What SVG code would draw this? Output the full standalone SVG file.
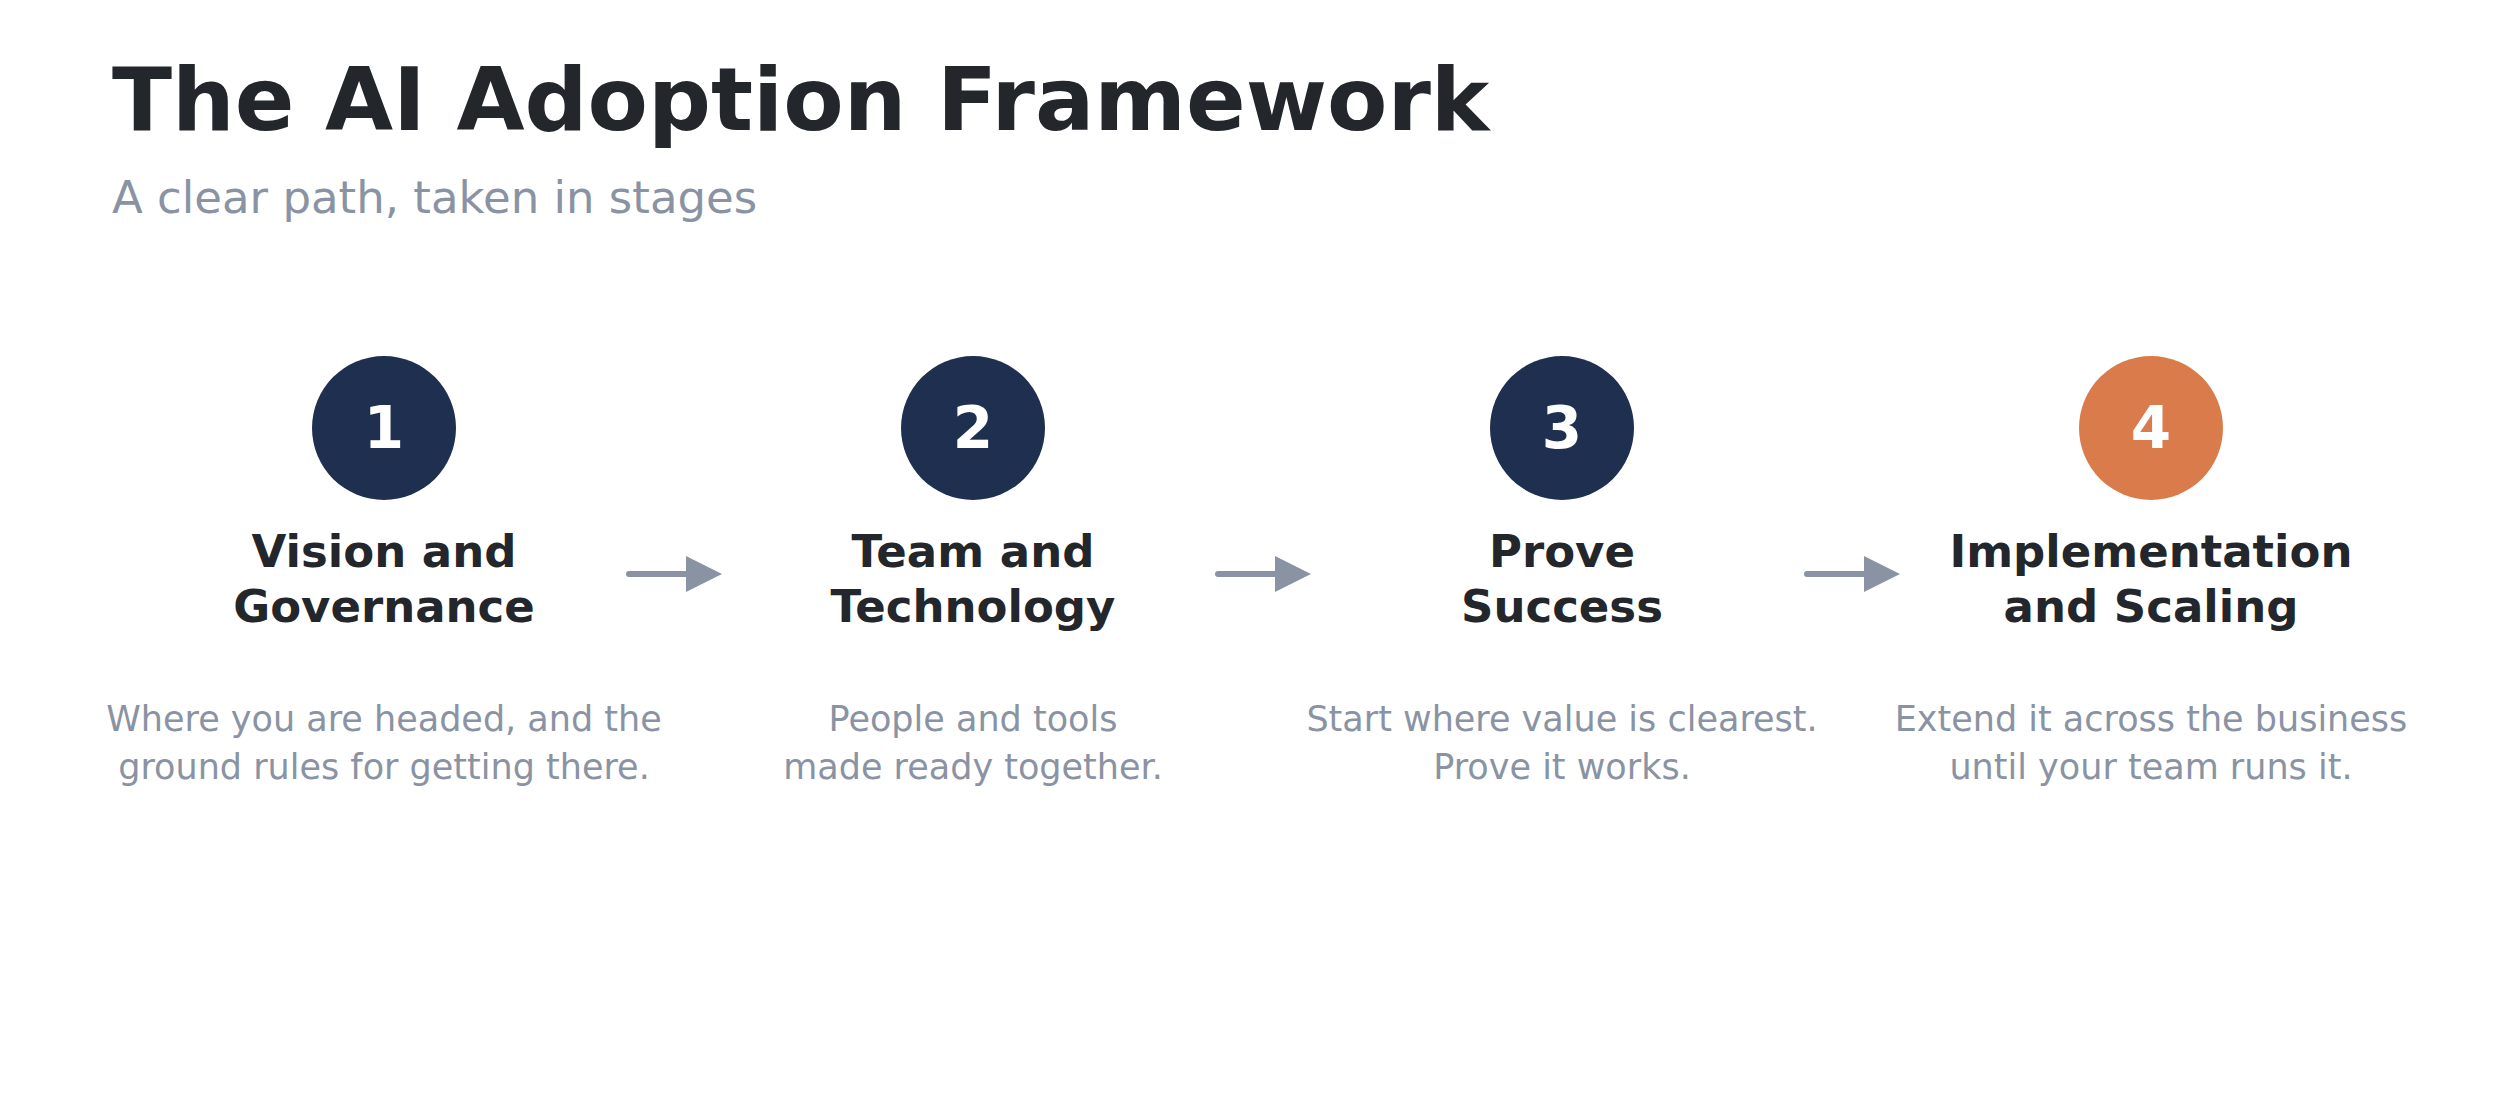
<svg xmlns="http://www.w3.org/2000/svg" width="2520" height="1118" viewBox="0 0 2520 1118">
<style>
text{font-family:"DejaVu Sans",sans-serif;text-anchor:middle}
.t{font-weight:bold;font-size:88px;fill:#23262b;text-anchor:start}
.s{font-size:45px;fill:#8a93a3;text-anchor:start}
.n{font-weight:bold;font-size:58px;fill:#fff}
.h{font-weight:bold;font-size:45px;fill:#23262b}
.d{font-size:35px;fill:#8a93a3}
.c{stroke:#8a93a3;stroke-width:6;stroke-linecap:round;fill:none}
</style>
<defs><marker id="a" markerWidth="6" markerHeight="6" refX="2" refY="3" orient="auto" markerUnits="strokeWidth"><path d="M0,0 L6,3 L0,6 Z" fill="#8a93a3"/></marker></defs>
<rect width="2520" height="1118" fill="#fff"/>
<text class="t" x="112" y="130">The AI Adoption Framework</text>
<text class="s" x="112" y="213">A clear path, taken in stages</text>
<g id="connectors">
<line class="c" x1="629" y1="574" x2="698" y2="574" marker-end="url(#a)"/>
<line class="c" x1="1218" y1="574" x2="1287" y2="574" marker-end="url(#a)"/>
<line class="c" x1="1807" y1="574" x2="1876" y2="574" marker-end="url(#a)"/>
</g>
<g id="step1"><circle cx="384" cy="428" r="72" fill="#1e2f4f"/><text class="n" x="384" y="448">1</text>
<text class="h" x="384" y="567">Vision and</text><text class="h" x="384" y="622">Governance</text>
<text class="d" x="384" y="731">Where you are headed, and the</text><text class="d" x="384" y="779">ground rules for getting there.</text></g>
<g id="step2"><circle cx="973" cy="428" r="72" fill="#1e2f4f"/><text class="n" x="973" y="448">2</text>
<text class="h" x="973" y="567">Team and</text><text class="h" x="973" y="622">Technology</text>
<text class="d" x="973" y="731">People and tools</text><text class="d" x="973" y="779">made ready together.</text></g>
<g id="step3"><circle cx="1562" cy="428" r="72" fill="#1e2f4f"/><text class="n" x="1562" y="448">3</text>
<text class="h" x="1562" y="567">Prove</text><text class="h" x="1562" y="622">Success</text>
<text class="d" x="1562" y="731">Start where value is clearest.</text><text class="d" x="1562" y="779">Prove it works.</text></g>
<g id="step4"><circle cx="2151" cy="428" r="72" fill="#d97b4a"/><text class="n" x="2151" y="448">4</text>
<text class="h" x="2151" y="567">Implementation</text><text class="h" x="2151" y="622">and Scaling</text>
<text class="d" x="2151" y="731">Extend it across the business</text><text class="d" x="2151" y="779">until your team runs it.</text></g>
</svg>
